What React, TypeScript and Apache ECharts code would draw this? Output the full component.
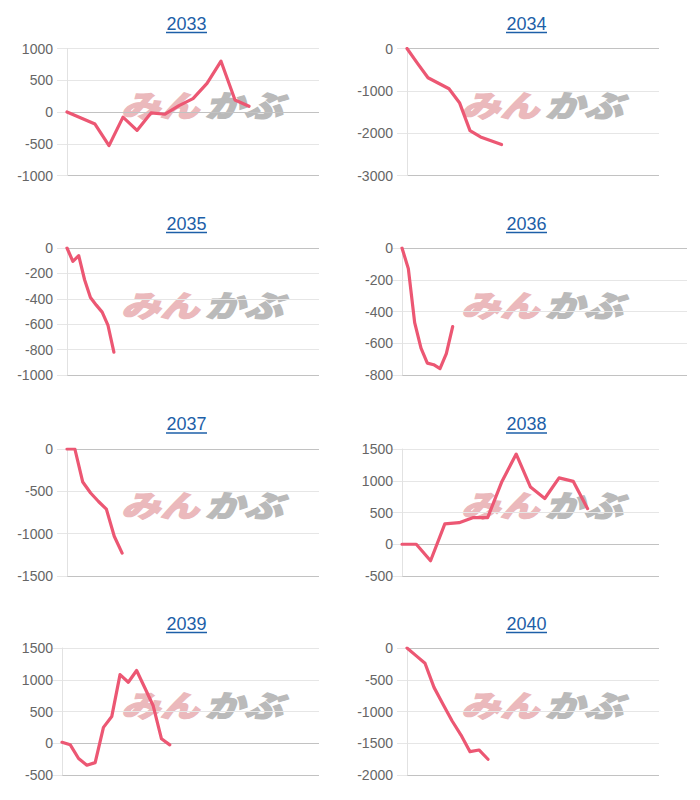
import React, { useEffect, useRef } from 'react';
import * as echarts from 'echarts';

// ---- data ----
const years = ['2033', '2034', '2035', '2036', '2037', '2038', '2039', '2040'];
const values2033 = [0, -95, -190, -530, -80, -290, -15, -35, 100, 210, 450, 800, 190, 90];
const values2034 = [0, -350, -690, -820, -950, -1280, -1940, -2090, -2180, -2270];
const values2035 = [0, -105, -60, -250, -390, -450, -505, -610, -820];
const values2036 = [0, -130, -470, -630, -725, -735, -760, -665, -495];
const values2037 = [0, 0, -390, -520, -620, -710, -1030, -1230];
const values2038 = [0, 0, -260, 320, 340, 420, 420, 990, 1420, 900, 720, 1045, 990, 560];
const values2039 = [15, -25, -240, -345, -305, 250, 420, 1080, 960, 1145, 870, 590, 70, -25];
const values2040 = [0, -120, -240, -620, -884, -1146, -1371, -1633, -1606, -1752];
const seriesValues = [values2033, values2034, values2035, values2036, values2037, values2038, values2039, values2040];
// number of x categories per panel
const categoryCounts = [19, 25, 44, 46, 33, 19, 32, 29];
// y-axis tick ranges
const yMin = [-1000, -3000, -1000, -800, -1500, -500, -500, -2000];
const yMax = [1000, 0, 0, 0, 0, 1500, 1500, 0];
const yStep = [500, 1000, 200, 200, 500, 500, 500, 500];

// ---- layout ----
const gridLeftPx = [67, 407, 67, 402, 67, 402, 62, 407];
const gridRightPx = [319, 659, 319, 687, 319, 659, 319, 659];
const rowTop = [48.5, 248, 449, 648];
const gridH = 127;
const LINE_COLOR = '#ec5773';
const TITLE_COLOR = '#1d5fa8';
const FONT = 'Arial, "Liberation Sans", Helvetica, sans-serif';

export default function App() {
  const ref = useRef<HTMLDivElement>(null);
  useEffect(() => {
    if (!ref.current) return;
    const chart = echarts.init(ref.current, null, { renderer: 'svg' });
    const grids: any[] = [];
    const xAxes: any[] = [];
    const yAxes: any[] = [];
    const series: any[] = [];
    const graphics: any[] = [];
    years.forEach((yr, i) => {
      const col = i % 2;
      const row = Math.floor(i / 2);
      const left = gridLeftPx[i];
      const width = gridRightPx[i] - left;
      const top = rowTop[row];
      grids.push({ left, top, width, height: gridH, containLabel: false });
      const cats = Array.from({ length: categoryCounts[i] }, (_, k) => String(k + 1));
      xAxes.push({
        type: 'category',
        gridIndex: i,
        data: cats,
        boundaryGap: false,
        axisLine: { show: false },
        axisTick: { show: false },
        axisLabel: { show: false },
        splitLine: { show: false },
      });
      const nLines = Math.round((yMax[i] - yMin[i]) / yStep[i]) + 1;
      const zeroIdx = Math.round((0 - yMin[i]) / yStep[i]);
      const splitColors = Array.from({ length: nLines }, (_, k) =>
        k === zeroIdx || k === 0 ? '#c2c2c2' : '#e6e6e6'
      );
      yAxes.push({
        type: 'value',
        gridIndex: i,
        min: yMin[i],
        max: yMax[i],
        interval: yStep[i],
        axisLine: { show: true, lineStyle: { color: '#e2e2e2', width: 1 } },
        axisTick: { show: true, length: 10, lineStyle: { color: '#e6e6e6' } },
        axisLabel: {
          color: '#666',
          fontSize: 14,
          fontFamily: FONT,
          margin: left - 53 - (col === 1 ? 340 : 0),
          formatter: (v: number) => String(v),
        },
        splitLine: { show: true, lineStyle: { color: splitColors, width: 1 } },
      });
      series.push({
        type: 'line',
        xAxisIndex: i,
        yAxisIndex: i,
        data: seriesValues[i],
        showSymbol: false,
        symbol: 'none',
        lineStyle: { color: LINE_COLOR, width: 3.2, join: 'round', cap: 'round' },
        itemStyle: { color: LINE_COLOR },
        z: 5,
      });
      const ox = col * 340;
      const oy = row * 200 + (row === 2 ? 0.5 : 0);
      const cx = 186.5 + ox;
      graphics.push({
        type: 'text',
        x: cx,
        y: 23.5 + oy,
        style: {
          text: yr,
          fill: TITLE_COLOR,
          fontSize: 18,
          fontFamily: FONT,
          align: 'center',
          verticalAlign: 'middle',
        },
        z: 10,
      });
      graphics.push({
        type: 'line',
        shape: { x1: cx - 20.5, y1: 32.5 + oy, x2: cx + 20.5, y2: 32.5 + oy },
        style: { stroke: TITLE_COLOR, lineWidth: 1.5 },
        z: 10,
      });
      // watermark
      graphics.push({
        type: 'text',
        x: 121 + ox,
        y: 104 + oy,
        scaleX: 1.3,
        silent: true,
        z: 0,
        style: {
          text: 'みん',
          fill: '#ebb9bc',
          stroke: '#ebb9bc',
          lineWidth: 1.2,
          fontSize: 30,
          fontWeight: 900,
          fontStyle: 'italic',
          fontFamily: '"Noto Sans CJK JP", sans-serif',
          align: 'left',
          verticalAlign: 'middle',
        },
      });
      graphics.push({
        type: 'text',
        x: 205 + ox,
        y: 104 + oy,
        scaleX: 1.3,
        silent: true,
        z: 0,
        style: {
          text: 'かぶ',
          fill: '#bababa',
          stroke: '#bababa',
          lineWidth: 1.2,
          fontSize: 30,
          fontWeight: 900,
          fontStyle: 'italic',
          fontFamily: '"Noto Sans CJK JP", sans-serif',
          align: 'left',
          verticalAlign: 'middle',
        },
      });
    });
    chart.setOption({
      animation: false,
      backgroundColor: '#ffffff',
      grid: grids,
      xAxis: xAxes,
      yAxis: yAxes,
      series,
      graphic: { elements: graphics },
    });
    return () => chart.dispose();
  }, []);
  return (
    <div
      ref={ref}
      style={{ position: 'absolute', left: 0, top: 0, width: 700, height: 800 }}
    />
  );
}
